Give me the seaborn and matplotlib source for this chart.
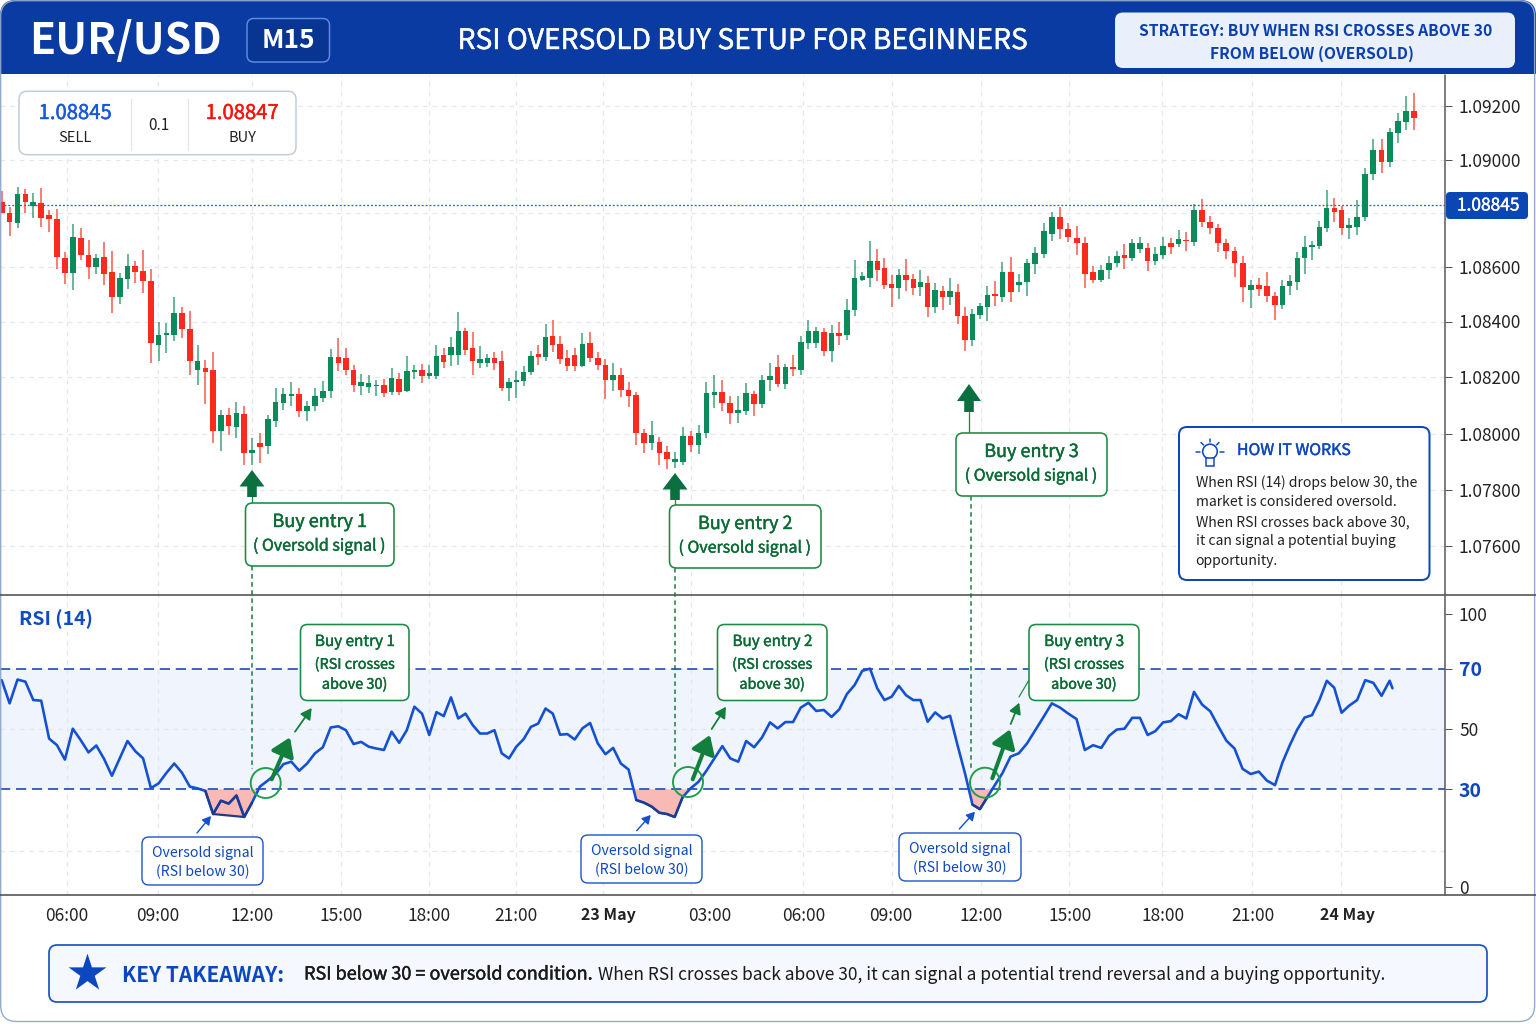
import numpy as np
import pandas as pd
import matplotlib
matplotlib.use("Agg")
import matplotlib.pyplot as plt
import matplotlib.patheffects as pe
import seaborn as sns
from matplotlib.patches import FancyBboxPatch, FancyArrowPatch, Polygon, Rectangle, Circle

# candles, one per 15 minutes
open_ = [
    1.08840, 1.08801, 1.08762, 1.08871, 1.08825, 1.08837, 1.08791, 1.08777, 1.08635, 1.08578,
    1.08709, 1.08646, 1.08600, 1.08636, 1.08583, 1.08490, 1.08555, 1.08605, 1.08584, 1.08548,
    1.08316, 1.08352, 1.08353, 1.08432, 1.08374, 1.08227, 1.08232, 1.08225, 1.08011, 1.08065,
    1.08025, 1.08069, 1.07932, 1.07969, 1.07958, 1.08047, 1.08109, 1.08132, 1.08142, 1.08081,
    1.08098, 1.08128, 1.08150, 1.08273, 1.08269, 1.08226, 1.08169, 1.08165, 1.08168, 1.08171,
    1.08148, 1.08194, 1.08150, 1.08219, 1.08224, 1.08202, 1.08202, 1.08278, 1.08278, 1.08278,
    1.08365, 1.08305, 1.08249, 1.08249, 1.08267, 1.08257,
    1.08160, 1.08183, 1.08186, 1.08218, 1.08283, 1.08273, 1.08346, 1.08318, 1.08269, 1.08278,
    1.08240, 1.08323, 1.08267, 1.08244, 1.08189, 1.08207, 1.08154, 1.08136, 1.08005, 1.07967,
    1.07971, 1.07937, 1.07901, 1.07901, 1.07992, 1.07959, 1.08005, 1.08136, 1.08148, 1.08109,
    1.08073, 1.08079, 1.08142, 1.08104, 1.08191, 1.08237, 1.08174, 1.08236, 1.08227, 1.08322,
    1.08323, 1.08362, 1.08292, 1.08359, 1.08350, 1.08443, 1.08554, 1.08558, 1.08624, 1.08598,
    1.08538, 1.08522, 1.08572, 1.08557, 1.08525, 1.08540, 1.08454, 1.08513, 1.08491, 1.08507,
    1.08421, 1.08332, 1.08424, 1.08454, 1.08502,
    1.08489, 1.08581, 1.08534, 1.08544, 1.08611, 1.08650, 1.08722, 1.08787, 1.08740, 1.08709,
    1.08690, 1.08581, 1.08551, 1.08590, 1.08616, 1.08643, 1.08634, 1.08668, 1.08669, 1.08623,
    1.08643, 1.08689, 1.08684, 1.08700, 1.08693, 1.08812, 1.08767, 1.08746, 1.08689, 1.08659,
    1.08615, 1.08514, 1.08533, 1.08529, 1.08495, 1.08460, 1.08529, 1.08544, 1.08633, 1.08673,
    1.08677, 1.08746, 1.08818, 1.08810, 1.08746, 1.08750, 1.08784, 1.08947, 1.09037, 1.08991,
    1.09099, 1.09142, 1.09180,
]
close = [
    1.08801, 1.08765, 1.08871, 1.08841, 1.08841, 1.08780, 1.08777, 1.08636, 1.08578, 1.08710,
    1.08646, 1.08600, 1.08635, 1.08576, 1.08491, 1.08559, 1.08605, 1.08581, 1.08547, 1.08324,
    1.08350, 1.08357, 1.08432, 1.08373, 1.08257, 1.08259, 1.08219, 1.08012, 1.08065, 1.08027,
    1.08073, 1.07932, 1.07942, 1.07955, 1.08051, 1.08111, 1.08140, 1.08142, 1.08081, 1.08100,
    1.08133, 1.08152, 1.08273, 1.08249, 1.08225, 1.08171, 1.08182, 1.08179, 1.08172, 1.08145,
    1.08196, 1.08148, 1.08220, 1.08226, 1.08202, 1.08213, 1.08276, 1.08254, 1.08307, 1.08365,
    1.08298, 1.08257, 1.08266, 1.08267, 1.08250, 1.08162,
    1.08182, 1.08188, 1.08219, 1.08276, 1.08273, 1.08345, 1.08316, 1.08265, 1.08238, 1.08238,
    1.08319, 1.08269, 1.08243, 1.08190, 1.08207, 1.08154, 1.08134, 1.08005, 1.07967, 1.07996,
    1.07932, 1.07910, 1.07912, 1.07992, 1.07959, 1.08005, 1.08143, 1.08148, 1.08109, 1.08075,
    1.08085, 1.08143, 1.08104, 1.08190, 1.08202, 1.08174, 1.08236, 1.08229, 1.08327, 1.08365,
    1.08365, 1.08292, 1.08357, 1.08347, 1.08444, 1.08559, 1.08566, 1.08624, 1.08588, 1.08535,
    1.08522, 1.08572, 1.08554, 1.08524, 1.08545, 1.08454, 1.08514, 1.08491, 1.08512, 1.08422,
    1.08333, 1.08428, 1.08456, 1.08497, 1.08494,
    1.08581, 1.08509, 1.08546, 1.08616, 1.08652, 1.08735, 1.08786, 1.08739, 1.08712, 1.08689,
    1.08576, 1.08554, 1.08588, 1.08616, 1.08639, 1.08632, 1.08690, 1.08689, 1.08623, 1.08648,
    1.08677, 1.08673, 1.08703, 1.08695, 1.08812, 1.08766, 1.08746, 1.08689, 1.08658, 1.08615,
    1.08528, 1.08534, 1.08519, 1.08492, 1.08460, 1.08529, 1.08548, 1.08633, 1.08675, 1.08680,
    1.08748, 1.08818, 1.08805, 1.08743, 1.08755, 1.08784, 1.08949, 1.09036, 1.08991, 1.09103,
    1.09144, 1.09180, 1.09155,
]
high = [
    1.08883, 1.08823, 1.08900, 1.08892, 1.08874, 1.08895, 1.08813, 1.08816, 1.08656, 1.08759,
    1.08743, 1.08699, 1.08650, 1.08692, 1.08659, 1.08577, 1.08649, 1.08624, 1.08662, 1.08592,
    1.08399, 1.08396, 1.08489, 1.08454, 1.08440, 1.08317, 1.08263, 1.08289, 1.08085, 1.08091,
    1.08114, 1.08097, 1.07984, 1.08002, 1.08067, 1.08160, 1.08160, 1.08184, 1.08160, 1.08117,
    1.08160, 1.08186, 1.08301, 1.08339, 1.08305, 1.08244, 1.08211, 1.08206, 1.08188, 1.08194,
    1.08231, 1.08214, 1.08276, 1.08244, 1.08247, 1.08242, 1.08317, 1.08303, 1.08344, 1.08434,
    1.08378, 1.08361, 1.08313, 1.08283, 1.08289, 1.08293,
    1.08198, 1.08220, 1.08238, 1.08295, 1.08315, 1.08390, 1.08404, 1.08347, 1.08296, 1.08305,
    1.08357, 1.08363, 1.08289, 1.08266, 1.08249, 1.08232, 1.08182, 1.08148, 1.08017, 1.08046,
    1.07990, 1.07956, 1.07937, 1.08023, 1.08012, 1.08031, 1.08184, 1.08206, 1.08189, 1.08133,
    1.08133, 1.08178, 1.08152, 1.08208, 1.08250, 1.08281, 1.08247, 1.08281, 1.08347, 1.08405,
    1.08380, 1.08375, 1.08387, 1.08397, 1.08484, 1.08626, 1.08581, 1.08695, 1.08668, 1.08632,
    1.08571, 1.08592, 1.08629, 1.08576, 1.08588, 1.08567, 1.08542, 1.08530, 1.08558, 1.08538,
    1.08453, 1.08445, 1.08469, 1.08532, 1.08547,
    1.08617, 1.08638, 1.08574, 1.08629, 1.08673, 1.08762, 1.08803, 1.08824, 1.08762, 1.08753,
    1.08712, 1.08605, 1.08608, 1.08641, 1.08660, 1.08685, 1.08703, 1.08710, 1.08688, 1.08673,
    1.08710, 1.08706, 1.08737, 1.08729, 1.08834, 1.08853, 1.08789, 1.08760, 1.08704, 1.08675,
    1.08639, 1.08553, 1.08559, 1.08580, 1.08509, 1.08551, 1.08571, 1.08654, 1.08715, 1.08695,
    1.08770, 1.08887, 1.08855, 1.08825, 1.08782, 1.08850, 1.08968, 1.09076, 1.09078, 1.09119,
    1.09175, 1.09236, 1.09248,
]
low = [
    1.08799, 1.08716, 1.08745, 1.08801, 1.08783, 1.08750, 1.08728, 1.08592, 1.08537, 1.08517,
    1.08626, 1.08555, 1.08574, 1.08535, 1.08431, 1.08466, 1.08520, 1.08541, 1.08505, 1.08249,
    1.08259, 1.08287, 1.08329, 1.08339, 1.08208, 1.08172, 1.08104, 1.07969, 1.07938, 1.07996,
    1.07984, 1.07891, 1.07891, 1.07896, 1.07927, 1.08023, 1.08085, 1.08097, 1.08061, 1.08045,
    1.08080, 1.08111, 1.08128, 1.08220, 1.08208, 1.08148, 1.08136, 1.08145, 1.08133, 1.08131,
    1.08138, 1.08136, 1.08148, 1.08194, 1.08178, 1.08194, 1.08194, 1.08232, 1.08238, 1.08242,
    1.08281, 1.08206, 1.08232, 1.08235, 1.08226, 1.08150,
    1.08117, 1.08128, 1.08169, 1.08206, 1.08242, 1.08257, 1.08290, 1.08248, 1.08223, 1.08220,
    1.08237, 1.08253, 1.08226, 1.08123, 1.08150, 1.08129, 1.08093, 1.07959, 1.07932, 1.07942,
    1.07889, 1.07874, 1.07879, 1.07889, 1.07936, 1.07930, 1.07985, 1.08090, 1.08082, 1.08036,
    1.08039, 1.08067, 1.08064, 1.08090, 1.08150, 1.08165, 1.08157, 1.08202, 1.08206, 1.08301,
    1.08305, 1.08275, 1.08254, 1.08315, 1.08332, 1.08419, 1.08549, 1.08526, 1.08547, 1.08520,
    1.08453, 1.08484, 1.08513, 1.08499, 1.08494, 1.08417, 1.08433, 1.08444, 1.08462, 1.08390,
    1.08293, 1.08310, 1.08409, 1.08402, 1.08456,
    1.08471, 1.08472, 1.08507, 1.08494, 1.08574, 1.08633, 1.08695, 1.08703, 1.08693, 1.08646,
    1.08522, 1.08543, 1.08546, 1.08555, 1.08601, 1.08592, 1.08623, 1.08653, 1.08586, 1.08608,
    1.08629, 1.08648, 1.08673, 1.08658, 1.08678, 1.08747, 1.08721, 1.08657, 1.08628, 1.08564,
    1.08472, 1.08450, 1.08492, 1.08471, 1.08405, 1.08446, 1.08499, 1.08514, 1.08576, 1.08626,
    1.08665, 1.08729, 1.08765, 1.08720, 1.08703, 1.08719, 1.08772, 1.08926, 1.08952, 1.08975,
    1.09062, 1.09112, 1.09112,
]

# RSI (14), same candles, the line stops a little before the last ones
rsi = [
    66.3, 58.6, 66.5, 65.8, 59.7, 59.5, 46.9, 44.7, 39.9, 50.2, 46.4, 42.3, 44.6, 40.1, 34.5, 40.3, 46.1,
    42.7, 40.3, 30.4, 32.0, 35.5, 38.6, 35.5, 30.9, 30.3, 29.5, 22.4, 26.5, 25.6, 28.1, 21.5, 25.9, 30.9,
    32.9, 35.1, 38.4, 39.2, 36.2, 38.6, 42.0, 44.0, 50.6, 51.0, 49.7, 45.1, 45.8, 44.2, 43.6, 43.1, 49.2,
    45.5, 49.7, 57.5, 55.2, 48.1, 55.7, 54.4, 60.6, 53.6, 55.2, 51.4, 48.6, 48.6, 49.7, 42.0,
    40.3, 44.2, 46.7, 50.8, 51.9, 56.9, 55.2, 48.2, 48.4, 46.6, 50.3, 52.1, 45.3, 41.7, 43.8, 38.6, 36.6,
    26.7, 25.9, 24.7, 22.8, 22.4, 21.5, 27.6, 30.3, 32.5, 36.2, 40.3, 44.4, 40.3, 39.2, 46.1, 44.0, 47.3,
    52.3, 50.3, 52.4, 52.4, 57.2, 58.8, 56.1, 56.4, 54.1, 56.6, 61.7, 64.7, 69.4, 70.2, 63.6, 59.7, 60.8,
    64.4, 61.3, 59.7, 59.7, 52.5, 55.6, 53.6, 54.5, 44.7, 35.3, 25.3, 23.9, 27.6, 31.4,
    35.3, 40.9, 42.0, 45.3, 49.7, 54.1, 58.6, 57.2, 55.2, 53.4, 43.1, 44.7, 43.8, 47.8, 49.9, 50.2, 53.8,
    53.8, 48.1, 49.4, 52.3, 52.7, 55.0, 53.6, 62.4, 58.2, 56.0, 51.0, 46.2, 43.6, 36.8, 35.1, 35.9, 32.9,
    31.4, 38.9, 44.7, 49.9, 53.9, 54.7, 59.7, 66.1, 63.8, 55.5, 57.8, 59.7, 66.3, 65.4, 61.1, 66.1, 63.6,
]

price_ticks = [1.092, 1.090, 1.088, 1.086, 1.084, 1.082, 1.080, 1.078, 1.076]
price_labels = ["1.09200", "1.09000", "", "1.08600", "1.08400", "1.08200", "1.08000", "1.07800", "1.07600"]
price_level = 1.08831
rsi_ticks = [100, 70, 50, 30, 0]
time_labels = ["06:00", "09:00", "12:00", "15:00", "18:00", "21:00", "23 May", "03:00",
               "06:00", "09:00", "12:00", "15:00", "18:00", "21:00", "24 May"]

# layout, everything in pixels of the 1536x1024 picture
W, H = 1536, 1024
PANEL_R = 1445
price_knots = [1.07425, 1.076, 1.078, 1.080, 1.082, 1.084, 1.086, 1.088, 1.090, 1.092, 1.09315]
price_px = [595, 546, 490, 434, 377, 321.5, 267, 213, 160, 106, 75]
rsi_knots = [-2.4, 0, 30, 50, 70, 100, 110.4]
rsi_px = [895, 887, 789.3, 729.3, 669, 614, 595]
idx_knots = [-0.22, 0, 10, 20, 32, 42, 54, 65, 75, 88, 100, 113, 121, 131, 143, 155, 165, 175, 183, 187]
idx_px = [0, 1.7, 80.7, 158.7, 252, 330.7, 422, 501.7, 574.7, 674.7, 770, 870, 927.7, 1002.3, 1101.3, 1194, 1275, 1349,
          1414, PANEL_R]
grid_px = [67, 158, 252, 341, 429, 516, 603, 691, 803, 892, 981, 1069, 1162, 1252, 1341]
label_px = [67, 158, 252, 341, 429, 516, 608, 710, 804, 891, 981, 1070, 1163, 1253, 1347]

GREEN = "#0b8a5a"
RED = "#fa2a1e"
BLUE = "#0d47c0"
LINE_BLUE = "#1450d2"
DARK_GREEN = "#0b6b35"
BOX_GREEN = "#1a8a45"
GRID = "#e6e7eb"

sns.set_theme(style="white")
plt.rcParams["font.family"] = ["Noto Sans CJK SC", "DejaVu Sans"]


def px(p):
    # pixels to line widths / sizes in points
    return p * 0.72


def axes_rect(x0, y0, x1, y1):
    return [x0 / W, 1 - y1 / H, (x1 - x0) / W, (y1 - y0) / H]


def knot_scale(knots, pixels, flip=False):
    sign = -1 if flip else 1
    pos = sign * np.array(pixels, dtype=float)
    return (lambda v: np.interp(v, knots, pos), lambda p: np.interp(p, pos, knots))


fig = plt.figure(figsize=(W / 100, H / 100), dpi=100, facecolor="white")
ax = fig.add_axes(axes_rect(0, 75, PANEL_R, 595))
ax_rsi = fig.add_axes(axes_rect(0, 595, PANEL_R, 895))

idx = np.arange(len(open_))
o, c, hi, lo = map(np.array, (open_, close, high, low))
up = c >= o
colors = np.where(up, GREEN, RED)
grid_idx = np.interp(grid_px, idx_px, idx_knots)
label_idx = np.interp(label_px, idx_px, idx_knots)

for a in (ax, ax_rsi):
    a.set_xscale("function", functions=knot_scale(idx_knots, idx_px))
    for s in a.spines.values():
        s.set_visible(False)

# price panel
ax.set_yscale("function", functions=knot_scale(price_knots, price_px, flip=True))
ax.vlines(idx, lo, hi, colors=colors, linewidth=px(1.5), alpha=0.8, zorder=3)
ax.bar(idx, np.abs(c - o).clip(min=0.00004), bottom=np.minimum(o, c), width=0.72, color=colors, linewidth=0, zorder=4)
ax.axhline(price_level, color="#2563d8", linewidth=px(1.3), linestyle=(0, (1.5, 1.5)), zorder=2)
ax.set_xlim(idx_knots[0], idx_knots[-1])
ax.set_ylim(price_knots[0], price_knots[-1])
ax.set_xticks(grid_idx)
ax.set_xticks([], minor=True)
ax.tick_params(axis="x", length=0, labelbottom=False)
ax.yaxis.tick_right()
ax.set_yticks(price_ticks)
ax.set_yticklabels(price_labels)
ax.set_yticks([], minor=True)
ax.tick_params(axis="y", length=px(7), width=px(1), color="#555555", labelsize=12.5, labelcolor="#222222", pad=px(7), right=True)
ax.grid(True, color=GRID, linewidth=px(1.2), linestyle=(0, (4, 4)))
ax.set_axisbelow(True)

# RSI panel
ax_rsi.set_yscale("function", functions=knot_scale(rsi_knots, rsi_px, flip=True))
rsi_arr = np.array(rsi)
rsi_x = np.arange(len(rsi_arr), dtype=float)
rsi_x[-1] = rsi_x[-2] + 0.35
# the first dip is shaded down to a straight floor between its two lows
floor = rsi_arr.copy()
floor[27:32] = np.interp(rsi_x[27:32], [27, 31], [rsi_arr[27], rsi_arr[31]])
ax_rsi.axhspan(30, 70, color="#eff4fd", linewidth=0, zorder=1)
ax_rsi.fill_between(rsi_x, floor, 30, where=floor < 30, interpolate=True, color="#f9b9b4", linewidth=0, zorder=1.6)
rsi_df = pd.DataFrame({"candle": rsi_x, "rsi": rsi_arr})
sns.lineplot(data=rsi_df, x="candle", y="rsi", ax=ax_rsi, color=LINE_BLUE, linewidth=px(2.6), errorbar=None, sort=False, zorder=3)
oversold = np.where(rsi_arr < 30, rsi_arr, np.nan)
ax_rsi.plot(rsi_x, oversold, color="#1d3a8f", linewidth=px(2.2), zorder=3.2)
ax_rsi.plot(rsi_x[27:32], floor[27:32], color="#1d3a8f", linewidth=px(2.2), zorder=3.2)
for level in (70, 30):
    ax_rsi.plot([idx_knots[0], idx_knots[-1] + 0.9], [level, level], color="#1d4fb8", linewidth=px(1.7),
                linestyle=(0, (6, 3.4)), zorder=2.5, clip_on=False)
ax_rsi.hlines([50, 11], idx_knots[0], idx_knots[-1], color=GRID, linewidth=px(1.2), linestyle=(0, (4, 4)), zorder=1.5)
ax_rsi.set_xlim(idx_knots[0], idx_knots[-1])
ax_rsi.set_ylim(rsi_knots[0], rsi_knots[-1])
ax_rsi.set_xlabel("")
ax_rsi.set_ylabel("")
ax_rsi.xaxis.remove_overlapping_locs = False
ax_rsi.set_xticks(grid_idx)
ax_rsi.set_xticklabels([])
ax_rsi.set_xticks(label_idx, minor=True)
ax_rsi.set_xticklabels(time_labels, minor=True)
ax_rsi.tick_params(axis="x", which="major", length=px(6), width=px(1), color="#555555", pad=0)
ax_rsi.tick_params(axis="x", which="minor", length=0, labelsize=12.5, labelcolor="#222222", pad=px(12))
for lab in ax_rsi.get_xticklabels(minor=True):
    if "May" in lab.get_text():
        lab.set_fontweight("bold")
        lab.set_fontsize(11.5)
ax_rsi.grid(True, axis="x", color=GRID, linewidth=px(1.2), linestyle=(0, (4, 4)), zorder=1.5)
ax_rsi.set_axisbelow("line")
ax_rsi.yaxis.tick_right()
ax_rsi.set_yticks(rsi_ticks)
ax_rsi.set_yticklabels([str(t) for t in rsi_ticks])
ax_rsi.set_yticks([], minor=True)
ax_rsi.tick_params(axis="y", length=px(7), width=px(1), color="#555555", labelsize=12.5, labelcolor="#222222", pad=px(7), right=True)
for lab, t in zip(ax_rsi.get_yticklabels(), rsi_ticks):
    if t in (30, 70):
        lab.set_fontweight("bold")
        lab.set_fontsize(14)
        lab.set_color(BLUE)

# everything drawn on top in picture pixels
ov = fig.add_axes([0, 0, 1, 1], zorder=10)
ov.set_xlim(0, W)
ov.set_ylim(H, 0)
ov.axis("off")
ov.patch.set_alpha(0)


def box(x0, y0, x1, y1, ec="none", fc="white", lw=1.5, r=8, z=3):
    p = FancyBboxPatch((x0, y0), x1 - x0, y1 - y0, boxstyle=f"round,pad=0,rounding_size={r}",
                       ec=ec, fc=fc, linewidth=px(lw), zorder=z)
    ov.add_patch(p)
    return p


def txt(x, y, s, size, color="#222222", weight="normal", ha="center"):
    # the CJK font only has regular and bold here, "medium" is regular with a thin outline
    t = ov.text(x, y + 1.5, s, fontsize=size, color=color, fontweight="normal" if weight == "medium" else weight,
                ha=ha, va="center", zorder=6)
    if weight == "medium":
        t.set_path_effects([pe.withStroke(linewidth=0.3, foreground=color)])


def line(xs, ys, color, lw, ls="-", z=2.5):
    ov.plot(xs, ys, color=color, linewidth=px(lw), linestyle=ls, zorder=z, solid_capstyle="round")


def arrow(x0, y0, x1, y1, color, lw, hl, hw, z=5):
    ov.add_patch(FancyArrowPatch((x0, y0), (x1, y1), arrowstyle=f"-|>,head_length={px(hl)},head_width={px(hw)}",
                                 mutation_scale=1, color=color, linewidth=px(lw), shrinkA=0, shrinkB=0, zorder=z))


# header, frame
head = box(0, 0, W, 110, fc="#0a3ba2", r=16, z=1)
head.set_clip_path(Rectangle((0, 0), W, 74, transform=ov.transData))
box(0.7, 0.7, W - 1.4, 1021.5, ec="#8fa7cf", fc="none", lw=1.3, r=16, z=1.5)
txt(29, 39.5, "EUR/USD", 30.7, "white", "bold", ha="left")
box(247, 18.5, 329.5, 62, ec="#5e8be0", fc="#093592", lw=1.5, r=7)
txt(288.5, 39.5, "M15", 19, "white", "bold")
txt(743, 39.5, "RSI OVERSOLD BUY SETUP FOR BEGINNERS", 20.3, "white", "medium")
box(1115, 12.5, 1515, 68, fc="#e9f0fb", r=8)
txt(1316, 29, "STRATEGY: BUY WHEN RSI CROSSES ABOVE 30", 11.3, "#0b3fb0", "bold")
txt(1312, 52, "FROM BELOW (OVERSOLD)", 11.3, "#0b3fb0", "bold")

# panel separators
line([0, W], [595, 595], "#444444", 1.5)
line([0, W], [895, 895], "#444444", 1.5)
line([PANEL_R, PANEL_R], [75, 895], "#555555", 1.5)

# sell / buy widget
box(19, 91.3, 296, 154.7, ec="#c2cbdc", fc="white", lw=1.5, r=8)
line([131, 131], [99, 150], "#e2e5ea", 1.2, z=4)
line([188, 188], [99, 150], "#e2e5ea", 1.2, z=4)
txt(75, 112, "1.08845", 14.6, "#1559d8", "medium")
txt(75, 136, "SELL", 10.5)
txt(159, 124, "0.1", 11)
txt(242, 112, "1.08847", 14.6, "#f5150f", "medium")
txt(242, 136, "BUY", 10.5)

# last price tag
box(1446, 192, 1528, 219, fc="#0b46b5", r=4)
txt(1488, 204, "1.08845", 12.5, "white", "medium")

# how it works
box(1179, 427, 1429.5, 580, ec=BLUE, fc="white", lw=2, r=8)
txt(1237, 449, "HOW IT WORKS", 11.4, BLUE, "medium", ha="left")
how_lines = ["When RSI (14) drops below 30, the", "market is considered oversold.", "When RSI crosses back above 30,",
             "it can signal a potential buying", "opportunity."]
for s, y in zip(how_lines, [481, 501, 520.5, 540, 559]):
    txt(1195.5, y, s, 10.1, "#222222", ha="left")
ov.add_patch(Circle((1210, 451.5), 7.3, ec=BLUE, fc="white", linewidth=px(1.6), zorder=5))
ov.add_patch(Rectangle((1206, 458), 8, 8, ec=BLUE, fc="white", linewidth=px(1.5), zorder=5))
for xs, ys in [([1196, 1200], [452, 452]), ([1220, 1224], [452, 452]), ([1210, 1210], [439, 442]),
               ([1201, 1203.5], [442.5, 445]), ([1219, 1216.5], [442.5, 445])]:
    line(xs, ys, BLUE, 1.5, z=5)

txt(19, 618, "RSI (14)", 14, "#0f4bc4", "bold", ha="left")

# buy entries: price panel box, arrow, dashed guide, RSI panel box, cross circle, oversold box
entries = [
    dict(n=1, x=252, tip=470, head=486.5, stem=497, top=503, bx0=245.5, bx1=394, guide0=566, rx0=300.5, rx1=409,
         cx=265.7, cy=783, big=(271.7, 779.3, 290, 737.3), thin=(295, 731.7, 311.7, 708),
         ob=(142, 837, 263, 885), oa=(197, 833, 211, 816)),
    dict(n=2, x=675, tip=473, head=489.5, stem=500, top=505, bx0=669.5, bx1=821, guide0=568, rx0=717.5, rx1=827,
         cx=688, cy=782, big=(692.7, 779.3, 710, 735), thin=(711.7, 729, 726, 706.7),
         ob=(581, 835, 702, 883), oa=(636.7, 830.7, 650.7, 815)),
    dict(n=3, x=969, tip=384, head=401, stem=412, top=433, bx0=956, bx1=1107, guide0=496, rx0=1029, rx1=1139,
         cx=985, cy=782.7, big=(992.3, 778.3, 1010, 729.3), thin=(1010.7, 724, 1019.3, 702.7),
         ob=(899, 833, 1021, 881), oa=(959.3, 829, 975, 811.7)),
]
for e in entries:
    x = e["x"]
    hw = 12.5 if e["n"] < 3 else 12
    sw = 4.8
    ov.add_patch(Polygon([(x, e["tip"]), (x + hw, e["head"]), (x + sw, e["head"]), (x + sw, e["stem"]),
                          (x - sw, e["stem"]), (x - sw, e["head"]), (x - hw, e["head"])], fc="#0a7040", ec="none", zorder=5))
    line([x, x], [e["stem"], e["top"]], BOX_GREEN, 1.3)
    box(e["bx0"], e["top"], e["bx1"], e["top"] + 63, ec=BOX_GREEN, fc="white", lw=1.6, r=7)
    mid = (e["bx0"] + e["bx1"]) / 2
    txt(mid, e["top"] + 17.5, f"Buy entry {e['n']}", 13, DARK_GREEN, "medium")
    txt(mid, e["top"] + 41.5, "( Oversold signal )", 11.5, DARK_GREEN, "medium")
    gx = x + (2 if e["n"] == 3 else 0)
    line([gx, gx], [e["guide0"], 769], "#1a7a3e", 1.5, (0, (3, 2.4)))
    box(e["rx0"], 624.5, e["rx1"], 700.5, ec=BOX_GREEN, fc="white", lw=1.6, r=7)
    rm = (e["rx0"] + e["rx1"]) / 2
    txt(rm, 640, f"Buy entry {e['n']}", 11, DARK_GREEN, "medium")
    txt(rm, 663, "(RSI crosses", 10.4, DARK_GREEN, "medium")
    txt(rm, 683, "above 30)", 10.4, DARK_GREEN, "medium")
    ov.add_patch(Circle((e["cx"], e["cy"]), 15, ec="#1f9d4b", fc="none", linewidth=px(1.9), zorder=4))
    arrow(*e["big"], "#12803c", 4, 15, 10)
    arrow(*e["thin"], "#12803c", 1.8, 9, 5)
    x0, y0, x1, y1 = e["ob"]
    box(x0, y0, x1, y1, ec="#1c55c9", fc="white", lw=1.4, r=7)
    txt((x0 + x1) / 2, y0 + 14, "Oversold signal", 10.2, BLUE)
    txt((x0 + x1) / 2, y0 + 33, "(RSI below 30)", 10.2, BLUE)
    arrow(*e["oa"], LINE_BLUE, 1.4, 7, 4)
line([1019, 1029], [697, 680], BOX_GREEN, 1.2)

# key takeaway
box(49, 945, 1487, 1002, ec="#1a4fc0", fc="#f5f8fe", lw=1.7, r=8)
ov.scatter([87], [973], marker="*", s=820, color=BLUE, linewidth=0, zorder=6)
txt(122, 974, "KEY TAKEAWAY:", 15, BLUE, "bold", ha="left")
txt(304, 973, "RSI below 30 = oversold condition.", 13, "#1a1a1a", "medium", ha="left")
txt(598, 973, "When RSI crosses back above 30, it can signal a potential trend reversal and a buying opportunity.", 12.5, "#1a1a1a", ha="left")

fig.savefig("out.png", dpi=100)
